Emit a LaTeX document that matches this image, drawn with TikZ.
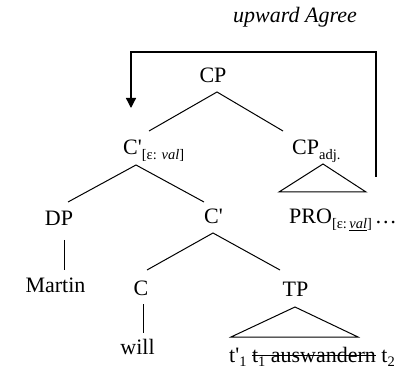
\documentclass[tikz,border=0pt]{standalone}
\usepackage{fontspec}
\newfontfamily\tms{Liberation Serif}
\usetikzlibrary{arrows.meta}
\newcommand\sbx[1]{\raisebox{-4.5pt}{\fontsize{14.5}{15}\selectfont #1}}
\newcommand\strk[1]{\setbox0=\hbox{#1}\rlap{\rule[6.5pt]{\wd0}{0.8pt}}\box0\relax}
\tikzset{
  lbl/.style={inner sep=0pt, font=\tms\fontsize{22}{26}\selectfont},
  edge/.style={line width=1pt},
  agreearrow/.style={line width=1.3pt, -{Triangle[length=10pt,width=10pt]}}
}
\begin{document}
\begin{tikzpicture}[x=1pt,y=-1pt]
\useasboundingbox (0,0) rectangle (396,371);
% labels
\node[lbl, anchor=base west] (agree) at (233,23) {\itshape upward Agree};
\node[lbl, anchor=base] (CP) at (213,83) {CP};
\node[lbl, anchor=base west] (Cbar1) at (123,155) {C'\sbx{[ε: \textit{val}]}};
\node[lbl, anchor=base west] (CPadj) at (292,155) {CP\sbx{adj.}};
\node[lbl, anchor=base] (DP) at (59,226) {DP};
\node[lbl, anchor=base west] (Cbar2) at (204,224) {C'};
\node[lbl, anchor=base west] (PRO) at (289,224) {PRO\sbx{[ε:\,\underline{\textit{val}}]}\hspace{3pt}\ldots};
\node[lbl, anchor=base] (Martin) at (55.5,292) {Martin};
\node[lbl, anchor=base] (C) at (141,295) {C};
\node[lbl, anchor=base] (TP) at (295.5,297) {TP};
\node[lbl, anchor=base] (will) at (137.5,354) {will};
\node[lbl, anchor=base west] (terminals) at (229,362) {t'\sbx{1} \strk{t\sbx{1} auswandern} t\sbx{2}};
% connector endpoints
\coordinate (CPtop) at (217,92);
\coordinate (CPl) at (149,131);
\coordinate (CPr) at (283,131);
\coordinate (C1top) at (136,165);
\coordinate (C1l) at (68,202);
\coordinate (C1r) at (204,202);
\coordinate (DPb) at (64,240);
\coordinate (Mt) at (64,270);
\coordinate (C2top) at (213,233);
\coordinate (C2l) at (147,270);
\coordinate (C2r) at (280,270);
\coordinate (Cb) at (143,304);
\coordinate (Wt) at (143,333);
\coordinate (adjtop) at (323,164);
\coordinate (adjl) at (279,192);
\coordinate (adjr) at (366,192);
\coordinate (TPtop) at (295,307);
\coordinate (TPl) at (231,337);
\coordinate (TPr) at (358,337);
\coordinate (agStart) at (376,177);
\coordinate (agEnd) at (131,108);
% tree edges
\draw[edge] (CPl) -- (CPtop) -- (CPr);
\draw[edge] (C1l) -- (C1top) -- (C1r);
\draw[edge] (DPb) -- (Mt);
\draw[edge] (C2l) -- (C2top) -- (C2r);
\draw[edge] (Cb) -- (Wt);
\draw[edge] (adjtop) -- (adjl) -- (adjr) -- cycle;
\draw[edge] (TPtop) -- (TPl) -- (TPr) -- cycle;
% upward agree arrow
\draw[agreearrow] (agStart) |- (131,52) -- (agEnd);
\end{tikzpicture}
\end{document}
